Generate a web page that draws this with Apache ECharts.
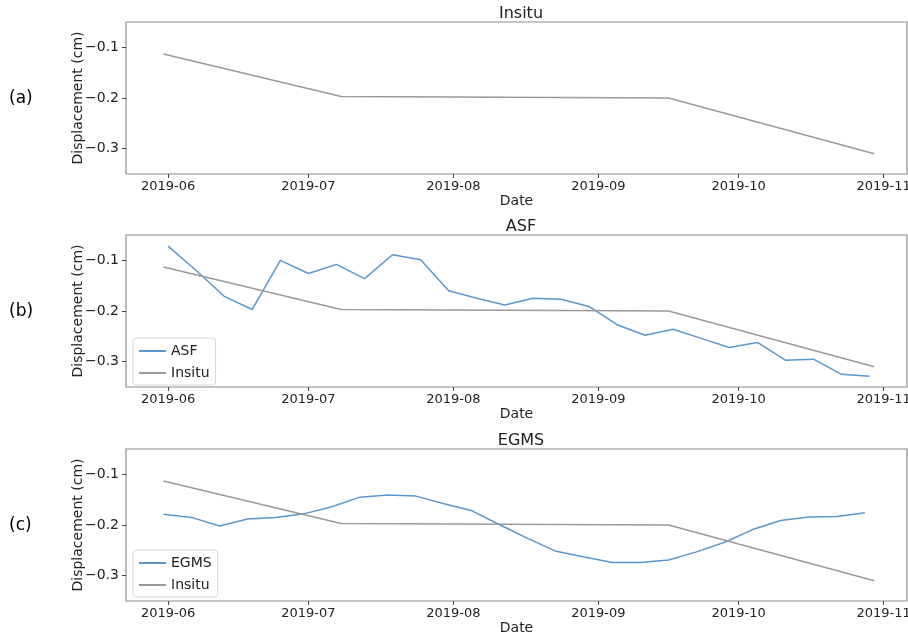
<!DOCTYPE html>
<html>
<head>
<meta charset="utf-8">
<script src="https://cdn.jsdelivr.net/npm/echarts@6/dist/echarts.min.js"></script>
<style>
  html, body { margin: 0; padding: 0; background: #fff; }
  #chart { width: 908px; height: 638px; }
</style>
</head>
<body>
<div id="chart"></div>
<script>
// Insitu measurements (sparse)
var insituDates = ['2019-05-31', '2019-07-08', '2019-09-16', '2019-10-30'];
var insituVals = [-0.113, -0.197, -0.200, -0.310];

// ASF, 6-day revisit
var asfDates = ['2019-06-01', '2019-06-07', '2019-06-13', '2019-06-19', '2019-06-25', '2019-07-01',
  '2019-07-07', '2019-07-13', '2019-07-19', '2019-07-25', '2019-07-31', '2019-08-06', '2019-08-12',
  '2019-08-18', '2019-08-24', '2019-08-30', '2019-09-05', '2019-09-11', '2019-09-17', '2019-09-23',
  '2019-09-29', '2019-10-05', '2019-10-11', '2019-10-17', '2019-10-23', '2019-10-29'];
var asfVals = [-0.072, -0.120, -0.171, -0.197, -0.100, -0.126, -0.108, -0.136, -0.089, -0.099,
  -0.160, -0.175, -0.188, -0.175, -0.177, -0.191, -0.227, -0.248, -0.236, -0.254,
  -0.272, -0.262, -0.297, -0.295, -0.325, -0.329];

// EGMS, 6-day steps
var egmsDates = ['2019-05-31', '2019-06-06', '2019-06-12', '2019-06-18', '2019-06-24', '2019-06-30',
  '2019-07-06', '2019-07-12', '2019-07-18', '2019-07-24', '2019-07-30', '2019-08-05', '2019-08-11',
  '2019-08-17', '2019-08-23', '2019-08-29', '2019-09-04', '2019-09-10', '2019-09-16', '2019-09-22',
  '2019-09-28', '2019-10-04', '2019-10-10', '2019-10-16', '2019-10-22', '2019-10-28'];
var egmsVals = [-0.179, -0.185, -0.202, -0.188, -0.185, -0.178, -0.164, -0.145, -0.141, -0.143,
  -0.158, -0.172, -0.200, -0.227, -0.252, -0.263, -0.274, -0.274, -0.269, -0.253,
  -0.234, -0.209, -0.191, -0.184, -0.183, -0.176];

var monthTicks = ['2019-06-01', '2019-07-01', '2019-08-01', '2019-09-01', '2019-10-01', '2019-11-01'];
var yTicks = [-0.3, -0.2, -0.1];
var panelTitles = ['Insitu', 'ASF', 'EGMS'];
var panelLabels = ['(a)', '(b)', '(c)'];

// dates -> day number (UTC based, no timezone drift)
function ts(s) {
  var p = s.split('-');
  return Date.UTC(+p[0], +p[1] - 1, +p[2]) / 86400000;
}
function pairs(d, v) {
  return d.map(function (x, i) { return [ts(x), v[i]]; });
}

var BLUE = '#5b97cc', GRAY = '#9a9a9a', TXT = '#222';
var tops = [22, 235, 449];
var H = 152;
var xMin = ts('2019-05-23'), xMax = ts('2019-11-06');

var grids = [], xAxes = [], yAxes = [], titles = [], graphics = [];
tops.forEach(function (t, i) {
  grids.push({
    left: 126, width: 781, top: t, height: H, show: true,
    borderColor: '#8c8c8c', borderWidth: 1.2,
    outerBoundsMode: 'none', containLabel: false
  });
  xAxes.push({
    type: 'value', gridIndex: i, min: xMin, max: xMax,
    name: 'Date', nameLocation: 'middle', nameGap: 20, nameMoveOverlap: false,
    nameTextStyle: { fontSize: 14, color: TXT, fontFamily: 'DejaVu Sans', verticalAlign: 'top' },
    axisLine: { show: false }, splitLine: { show: false },
    axisTick: { show: true, length: 4, lineStyle: { color: '#444' }, customValues: monthTicks.map(ts) },
    axisLabel: {
      fontSize: 13, color: TXT, fontFamily: 'DejaVu Sans', margin: 6, hideOverlap: false,
      customValues: monthTicks.map(ts),
      formatter: function (v) {
        var d = new Date(Math.round(v) * 86400000);
        var m = d.getUTCMonth() + 1;
        return d.getUTCFullYear() + '-' + (m < 10 ? '0' + m : m);
      }
    }
  });
  yAxes.push({
    type: 'value', gridIndex: i, min: -0.35, max: -0.05,
    name: 'Displacement (cm)', nameLocation: 'middle', nameGap: 41, nameMoveOverlap: false,
    nameTextStyle: { fontSize: 14, color: TXT, fontFamily: 'DejaVu Sans', verticalAlign: 'bottom' },
    axisLine: { show: false }, splitLine: { show: false },
    axisTick: { show: true, length: 4, lineStyle: { color: '#444' }, customValues: yTicks },
    axisLabel: {
      fontSize: 14, color: TXT, fontFamily: 'DejaVu Sans', margin: 7,
      customValues: yTicks,
      formatter: function (v) { return v.toFixed(1).replace('-', '\u2212'); }
    }
  });
  titles.push({
    text: panelTitles[i], left: 516, top: t - 21, textAlign: 'center',
    textStyle: { fontSize: 16, fontWeight: 'normal', color: TXT, fontFamily: 'DejaVu Sans' }
  });
  graphics.push({
    type: 'text', left: 9, top: t + 68,
    style: { text: panelLabels[i], fontSize: 17, fill: '#000', fontFamily: 'DejaVu Sans' }
  });
});

var lineBase = { type: 'line', showSymbol: false, symbol: 'none', animation: false };
var series = [
  Object.assign({}, lineBase, { name: 'Insitu', xAxisIndex: 0, yAxisIndex: 0, data: pairs(insituDates, insituVals), lineStyle: { color: GRAY, width: 1.5 }, itemStyle: { color: GRAY } }),
  Object.assign({}, lineBase, { name: 'ASF', xAxisIndex: 1, yAxisIndex: 1, data: pairs(asfDates, asfVals), lineStyle: { color: BLUE, width: 1.5 }, itemStyle: { color: BLUE } }),
  Object.assign({}, lineBase, { name: 'Insitu', xAxisIndex: 1, yAxisIndex: 1, data: pairs(insituDates, insituVals), lineStyle: { color: GRAY, width: 1.5 }, itemStyle: { color: GRAY } }),
  Object.assign({}, lineBase, { name: 'EGMS', xAxisIndex: 2, yAxisIndex: 2, data: pairs(egmsDates, egmsVals), lineStyle: { color: BLUE, width: 1.5 }, itemStyle: { color: BLUE } }),
  Object.assign({}, lineBase, { name: 'Insitu', xAxisIndex: 2, yAxisIndex: 2, data: pairs(insituDates, insituVals), lineStyle: { color: GRAY, width: 1.5 }, itemStyle: { color: GRAY } })
];

function legendAt(top, names) {
  return {
    data: names, orient: 'vertical', left: 133, top: top,
    icon: 'rect', itemWidth: 27, itemHeight: 2, itemGap: 8,
    padding: [6, 6, 5, 6],
    backgroundColor: '#fff', borderColor: '#d6d6d6', borderWidth: 1, borderRadius: 3,
    textStyle: { fontSize: 14, color: TXT, fontFamily: 'DejaVu Sans', padding: [0, 0, 0, 0] },
    selectedMode: false
  };
}

var chart = echarts.init(document.getElementById('chart'), null, { renderer: 'canvas' });
chart.setOption({
  backgroundColor: '#fff',
  animation: false,
  title: titles,
  grid: grids,
  xAxis: xAxes,
  yAxis: yAxes,
  legend: [legendAt(338, ['ASF', 'Insitu']), legendAt(550, ['EGMS', 'Insitu'])],
  graphic: graphics,
  series: series
});
</script>
</body>
</html>
